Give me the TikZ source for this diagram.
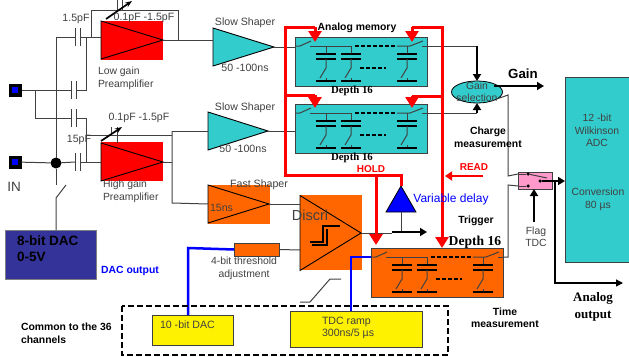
\documentclass[tikz,border=0pt]{standalone}
\usepackage{fontspec}
\setmainfont{Liberation Sans}
\newfontfamily\serifbold{Liberation Serif}
\usetikzlibrary{shapes.geometric,arrows.meta,calc}
\definecolor{dark}{gray}{0.25}
\definecolor{tealbox}{HTML}{33CCCC}
\definecolor{orangebox}{HTML}{FF6600}
\definecolor{navybox}{HTML}{333399}
\definecolor{pinkbox}{HTML}{FF99CC}
\newcommand{\labelsize}{\fontsize{10.6}{12}\selectfont}
\newcommand{\smallsize}{\fontsize{10.4}{12.5}\selectfont}

\tikzset{
	memcell/.pic={
		\draw[wire] (0,9) -- (5,9) -- (16,4);
		\draw[wire] (15,9) -- (56,9);
		\draw[wire] (102,9) -- (115,9) -- (128,4);
		\draw[wire] (127,9) -- (132,9);
		\draw[line width=1.3pt, dash pattern=on 4pt off 2pt] (60,9) -- (101,9);
		\draw[line width=1.3pt, dash pattern=on 4pt off 2pt] (65,31) -- (91,31);
		\foreach \cx in {31,56,112} {
			\draw[wire] (\cx,9) -- (\cx,17);
			\draw[line width=1.2pt] (\cx-10,17) -- (\cx+10,17);
			\draw[line width=1.2pt] (\cx-10,22) -- (\cx+10,22);
			\draw[wire] (\cx,22) -- (\cx,31) -- (\cx-6,41);
			\draw[wire] (\cx,41) -- (\cx,44);
			\draw[line width=1.2pt] (\cx-10,44) -- (\cx+10,44);
		}
	},
	capv/.pic={
		\draw[line width=1pt, dark] (-2.5,-9) -- (-2.5,9);
		\draw[line width=1pt, dark] (2.5,-9) -- (2.5,9);
	}
}

\begin{document}
\begin{tikzpicture}[
		x=1pt, y=-1pt,
		every node/.style={font=\labelsize, text=dark, inner sep=0pt, outer sep=0pt},
		wire/.style={draw=dark, line width=1pt},
		boxnode/.style={draw=dark, line width=1pt, rectangle, anchor=north west},
		amp/.style={draw=black, line width=0.9pt, isosceles triangle, isosceles triangle stretches, anchor=lower side, minimum height=#1, minimum width=38pt},
		label/.style={align=center},
		strong/.style={font=\smallsize\bfseries, align=center, text=black},
		depth/.style={font=\serifbold\fontsize{10.8}{12}\selectfont\bfseries, text=black},
		barrow/.style={-{Triangle[length=7pt,width=8pt]}, line width=1.8pt},
		harrow/.style={-{Triangle[length=11pt,width=13pt]}, red, line width=3pt},
		redline/.style={red, line width=3pt},
		bluewire/.style={blue, line width=2.5pt},
		pad/.style={rectangle, fill=black, minimum size=13pt},
		padin/.style={rectangle, fill=blue, minimum size=6pt},
		pin/.style={circle, fill=black, minimum size=3.5pt}
	]
		\useasboundingbox (0,0) rectangle (629,356);

		\node[rectangle, fill=red, minimum width=62pt, minimum height=39pt, anchor=north west] (lowback) at (101,21) {};
		\node[rectangle, fill=red, minimum width=62pt, minimum height=39pt, anchor=north west] (highback) at (101,142) {};
		\node[rectangle, fill=orangebox, minimum width=62pt, minimum height=39pt, anchor=north west] (fastback) at (208,185) {};
		\node[rectangle, fill=orangebox, minimum width=62pt, minimum height=75pt, anchor=north west] (discback) at (300,195) {};

		\node[amp=62pt] (lowamp) at (101,40) {};
		\node[amp=62pt] (highamp) at (101,162) {};
		\node[amp=61pt, fill=tealbox] (slowa) at (213,47) {};
		\node[amp=60pt, fill=tealbox] (slowb) at (208,131) {};
		\node[amp=61pt] (fastamp) at (208,204) {};
		\node[amp=61pt, minimum width=75pt] (discamp) at (300,233) {};

		\node[boxnode, fill=tealbox, minimum width=132pt, minimum height=49pt] (memtop) at (295,37) {};
		\node[boxnode, fill=tealbox, minimum width=132pt, minimum height=49pt] (membot) at (295,104) {};
		\node[boxnode, fill=orangebox, minimum width=132pt, minimum height=49pt] (memtime) at (371,248) {};
		\pic at (memtop.north west) {memcell};
		\pic at (membot.north west) {memcell};
		\pic at (memtime.north west) {memcell};

		\node[boxnode, fill=navybox, draw=gray, minimum width=91pt, minimum height=49pt] (dac8) at (5,230) {};
		\node[boxnode, fill=tealbox, minimum width=66pt, minimum height=185pt] (adc) at (565,77) {};
		\node[boxnode, fill=orangebox, minimum width=45pt, minimum height=13pt] (thresh) at (234,243) {};
		\node[boxnode, fill=yellow, minimum width=81pt, minimum height=30pt] (dac10) at (152,315) {};
		\node[boxnode, fill=yellow, minimum width=132pt, minimum height=36pt] (ramp) at (290,311) {};
		\node[boxnode, fill=pinkbox, minimum width=34pt, minimum height=17pt] (flagsw) at (518,172) {};
		\node[draw=black, line width=0.8pt, ellipse, fill=tealbox, minimum width=51pt, minimum height=22pt] (gainsel) at (477,92) {};
		\node[draw=black, line width=0.8pt, isosceles triangle, isosceles triangle stretches, shape border rotate=90, fill=blue, minimum width=30pt, minimum height=26pt, anchor=apex] (delay) at (401,186) {};

		\node[pad] (padlow) at (15,90) {};
		\node[padin] at (padlow) {};
		\node[pad] (padhigh) at (15,162) {};
		\node[padin] at (padhigh) {};
		\node[circle, fill=black, minimum size=11pt] (injoin) at (56,163) {};
		\node[pin] (pina) at (528,174) {};
		\node[pin] (pinb) at (528,186) {};
		\node[pin] (pinc) at (540,181) {};

		\coordinate (caplow) at (78,37);
		\coordinate (caphigh) at (78,162);
		\coordinate (cappadlow) at (73.5,90);
		\coordinate (cappadhigh) at (73.5,118);
		\pic at (caplow) {capv};
		\pic at (caphigh) {capv};
		\pic at (cappadlow) {capv};
		\pic at (cappadhigh) {capv};

		\draw[wire] (injoin.north) -- (56,37) -- (75.5,37);
		\draw[wire] (80.5,37) -- (lowback.west |- 0,37);
		\draw[wire] (91,37) -- (91,10) -- (178,10) -- (178,40);
		\draw[wire] (lowamp.apex) -- (slowa.lower side |- lowamp.apex);
		\draw[wire] (padlow) -- (71,90);
		\draw[wire] (76,90) -- (86,90) -- (86,37);
		\draw[wire] (35,90) -- (35,118) -- (71,118);
		\draw[wire] (76,118) -- (86,118) -- (86,162);
		\draw[wire] (padhigh) -- (injoin) -- (75.5,162);
		\draw[wire] (80.5,162) -- (highback.west |- 0,162);
		\draw[wire] (86,135) -- (172,135);
		\draw[wire] (highamp.apex) -- (172,162);
		\draw[wire] (172,131) -- (slowb.lower side);
		\draw[wire] (172,131) -- (172,203) -- (fastamp.lower side);
		\draw[wire] (fastamp.apex) -- (discamp.lower side |- fastamp.apex);
		\draw[wire] (thresh.east) -- (300,250);
		\draw[wire] (injoin.south) -- (56,185);
		\draw[wire] (66,185) -- (56,198) -- (dac8.north -| 56,0);
		\draw[wire] (300,302) -- (310,302) -- (330,279) -- (341,279);

		\draw[thick, dark] (117,0) -- (117,10) (122,0) -- (122,10);
		\draw[thick, dark] (111,127) -- (111,135) (117,127) -- (117,143);
		\draw[-{Stealth[length=7pt]}, line width=1.7pt] (106,19) -- (132,1);
		\draw[-{Stealth[length=7pt]}, line width=1.7pt] (101,141) -- (122,127);

		\draw[wire] (slowa.apex) -- (memtop.west |- slowa.apex);
		\draw[wire] (slowb.apex) -- (membot.west |- slowb.apex);
		\draw[wire] (memtop.north east |- 0,46) -- (gainsel.north |- 0,46);
		\draw[wire] (membot.north east |- 0,113) -- (gainsel.south |- 0,113);
		\draw[barrow] (gainsel.north |- 0,46) -- (gainsel.north);
		\draw[barrow] (gainsel.south |- 0,113) -- (gainsel.south);
		\draw[barrow] (gainsel.25 |- 0,86) -- (544,86);
		\draw[wire] (gainsel.-20) -- (508,95) -- (508,176) -- (flagsw.west |- pina);
		\draw[wire] (memtime.east |- 0,257) -- (508,257) -- (508,185) -- (flagsw.west |- pinb);
		\draw[wire] (flagsw.west |- pina) -- (pina);
		\draw[wire] (flagsw.west |- pinb) -- (pinb);
		\draw[wire] (pina) -- (547,178);
		\draw[barrow] (pinc) -- (adc.west |- pinc);
		\draw[-{Triangle[length=7pt,width=7pt]}, line width=1.2pt] (555,181) -- (555,283) -- (623,283);
		\draw[barrow] (534,222) -- (flagsw.south -| 534,0);

		\draw[wire] (discamp.apex) -- (392,233);
		\draw[wire] (delay.lower side) -- (401,232);
		\draw[barrow] (392,232) -- (427,232);
		\draw[bluewire] (dac10.north -| 188,0) -- (188,248) -- (thresh.west);
		\draw[bluewire] (ramp.north -| 351,0) -- (351,257) -- (memtime.west |- 0,257);

		\draw[redline] (315,27) -- (285,27) -- (285,175) -- (401,175) -- (delay.apex);
		\draw[redline] (285,95) -- (315,95);
		\draw[redline] (412,27) -- (442,27) -- (442,240);
		\draw[redline] (442,96) -- (412,96);
		\draw[harrow] (315,27) -- (315,42);
		\draw[harrow] (315,95) -- (315,108);
		\draw[harrow] (412,27) -- (412,42);
		\draw[harrow] (412,96) -- (412,108);
		\draw[harrow] (376,175) -- (376,245);
		\draw[harrow] (442,235) -- (memtime.north -| 442,0);
		\draw[-{Triangle[length=7pt,width=9pt]}, red, line width=2.4pt] (483,176) -- (445,176);

		\draw[line width=1.6pt] (310,242) -- (323,242) -- (323,226) -- (340,226);
		\draw[line width=1.6pt] (312,245) -- (327,245) -- (327,229);

		\draw[dashed, line width=1.3pt, dash pattern=on 6pt off 3pt] (122,306) rectangle (448,355);

		\node[label] (tslowa) at (245,23) {Slow Shaper};
		\node[label] (tslowaval) at (245,68) {50 -100ns};
		\node[label] (tslowb) at (245,108) {Slow Shaper};
		\node[label] (tslowbval) at (243,149) {50 -100ns};
		\node[label] (tcapa) at (76,19) {1.5pF};
		\node[label] (tcapb) at (79,140) {15pF};
		\node[label] (tfba) at (144,18) {0.1pF -1.5pF};
		\node[label] (tfbb) at (139,118) {0.1pF -1.5pF};
		\node[label, align=left, anchor=north west, font=\smallsize] (tlow) at (98,67) {Low gain\\Preamplifier};
		\node[label, align=left, anchor=north west, font=\smallsize] (thigh) at (103,180) {High gain\\Preamplifier};
		\node[label, font=\fontsize{13.5}{14}\selectfont] (tin) at (14,187) {IN};
		\node[label, align=left, anchor=west, text=black, font=\fontsize{13.5}{16}\selectfont\bfseries] (tdac) at (17,249) {8-bit DAC\\0-5V};
		\node[strong, text=blue] (tdacout) at (130,271) {DAC output};
		\node[label] (tfast) at (259,185) {Fast Shaper};
		\node[label, anchor=west] (tfastval) at (210,208) {15ns};
		\node[label, font=\fontsize{14.5}{16}\selectfont] (tdisc) at (310,215) {Discri};
		\node[label, font=\smallsize] (tthresh) at (244,268.5) {4-bit threshold\\adjustment};
		\node[strong, align=left, anchor=north west] (tcommon) at (21,323) {Common to the 36\\channels};
		\node[label, anchor=west] (tdac10) at (160,325) {10 -bit DAC};
		\node[label, align=left, anchor=west] (tramp) at (322,327.5) {TDC ramp\\300ns/5 µs};
		\node[strong] (tanalog) at (357,28) {Analog memory};
		\node[depth] (tdepa) at (352,91) {Depth 16};
		\node[depth] (tdepb) at (352,158) {Depth 16};
		\node[depth, font=\serifbold\fontsize{13.6}{15}\selectfont\bfseries] (tdepc) at (475,242) {Depth 16};
		\node[label, align=center, font=\smallsize] (tgainsel) at (gainsel) {Gain\\selection};
		\node[strong, font=\fontsize{13.3}{15}\selectfont\bfseries] (tgain) at (523,74) {Gain};
		\node[strong] (tcharge) at (488,137.5) {Charge\\measurement};
		\node[strong, text=red, font=\fontsize{10}{11}\selectfont\bfseries] (thold) at (371,169) {HOLD};
		\node[strong, text=red, font=\fontsize{10}{11}\selectfont\bfseries] (tread) at (474,167) {READ};
		\node[label, font=\fontsize{12}{14}\selectfont, text=blue] (tvar) at (451,199) {Variable delay};
		\node[strong] (ttrig) at (476,221) {Trigger};
		\node[strong] (ttime) at (505,318) {Time\\measurement};
		\node[label, font=\smallsize] (tflag) at (536,237) {Flag\\TDC};
		\node[label, font=\smallsize] (tadca) at (597,130.5) {12 -bit\\Wilkinson\\ADC};
		\node[label, font=\smallsize] (tadcb) at (598,199.5) {Conversion\\80 µs};
		\node[strong, font=\serifbold\fontsize{13}{17}\selectfont\bfseries] (tout) at (593,307) {Analog\\output};
	\end{tikzpicture}
\end{document}
